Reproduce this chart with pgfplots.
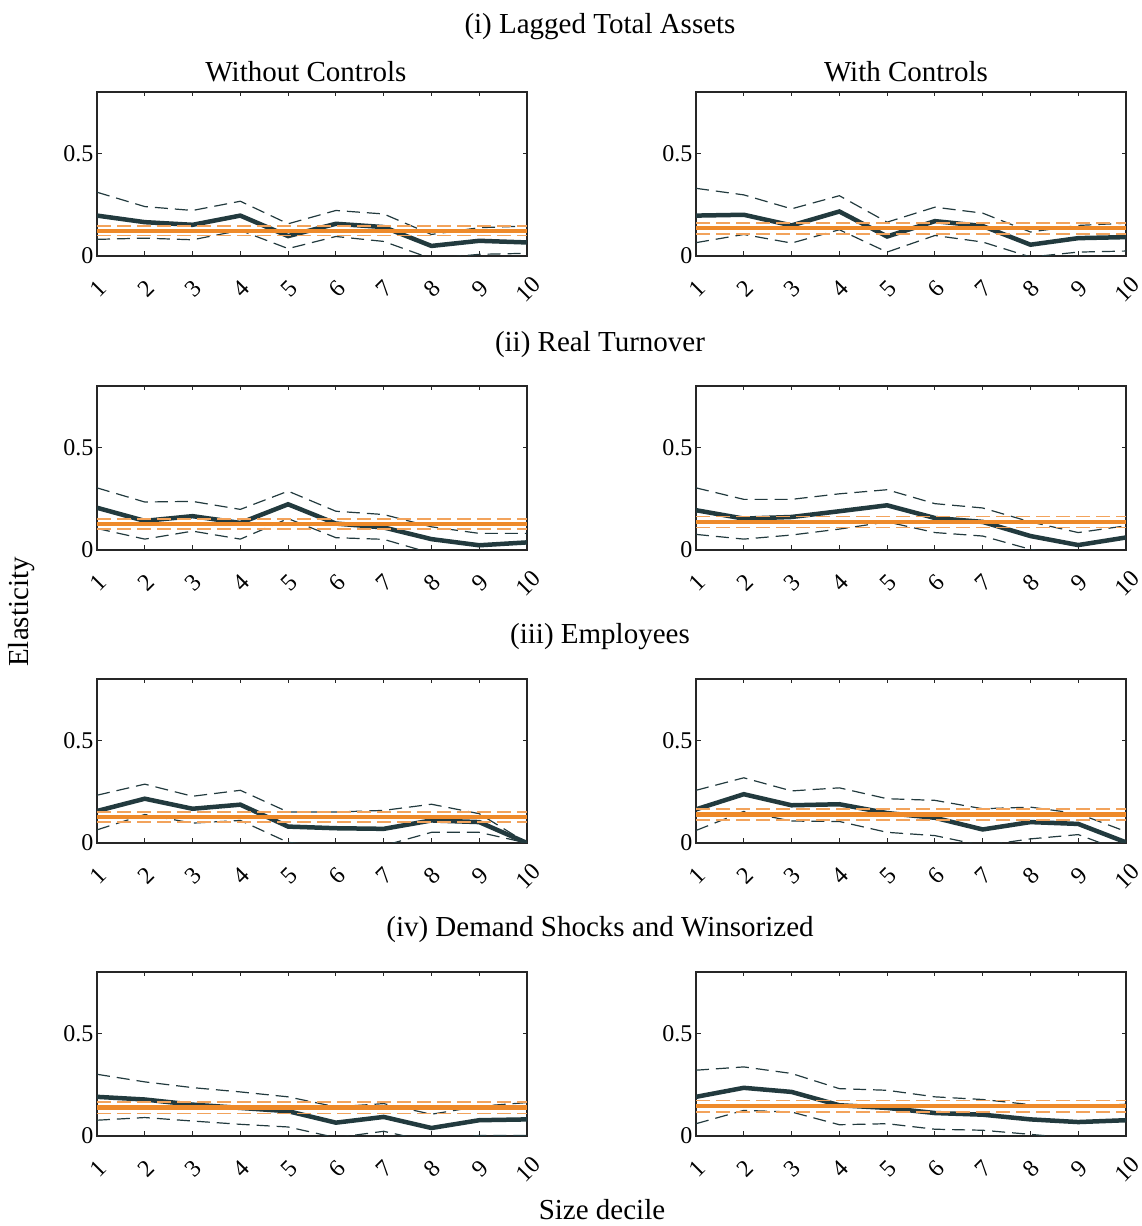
\documentclass[border=0pt]{standalone}
\usepackage{fontspec}
\setmainfont{Liberation Serif}
\usepackage{pgfplots}
\pgfplotsset{compat=1.18}
\usepackage{pgfplotstable}
\definecolor{mainc}{HTML}{223A3E}
\definecolor{orng}{HTML}{EE8A2A}
\definecolor{orngl}{HTML}{F2A35C}
\definecolor{axgray}{HTML}{262626}
\newcommand{\tsz}{\fontsize{24bp}{28bp}\selectfont}
\newcommand{\lsz}{\fontsize{29bp}{34bp}\selectfont}

\pgfplotstableread{
x m u l
1 .197 .311 .081
2 .165 .241 .087
3 .152 .222 .079
4 .197 .267 .125
5 .097 .157 .036
6 .157 .222 .095
7 .141 .205 .071
8 .049 .105 -.013
9 .074 .138 .008
10 .066 .146 .013
}\pA
\pgfplotstableread{
x m u l
1 .197 .330 .065
2 .201 .298 .105
3 .149 .230 .063
4 .217 .294 .128
5 .095 .165 .019
6 .170 .238 .100
7 .146 .209 .068
8 .055 .117 -.005
9 .087 .149 .019
10 .092 .160 .024
}\pB
\pgfplotstableread{
x m u l
1 .206 .303 .105
2 .142 .234 .053
3 .165 .237 .092
4 .132 .198 .053
5 .223 .287 .153
6 .129 .189 .060
7 .110 .173 .052
8 .053 .113 -.016
9 .023 .081 -.040
10 .037 .081 -.024
}\pC
\pgfplotstableread{
x m u l
1 .194 .303 .076
2 .153 .247 .053
3 .161 .247 .073
4 .189 .274 .102
5 .218 .294 .137
6 .156 .226 .085
7 .137 .205 .068
8 .068 .137 .003
9 .024 .085 -.037
10 .061 .118 .000
}\pD
\pgfplotstableread{
x m u l
1 .156 .233 .064
2 .216 .287 .139
3 .167 .228 .097
4 .187 .257 .110
5 .080 .151 .003
6 .072 .151 -.020
7 .069 .159 -.013
8 .110 .189 .052
9 .102 .143 .052
10 .000 .000 .000
}\pE
\pgfplotstableread{
x m u l
1 .164 .257 .061
2 .238 .318 .154
3 .184 .254 .107
4 .189 .269 .105
5 .146 .216 .052
6 .123 .208 .036
7 .066 .167 -.013
8 .102 .175 .020
9 .093 .143 .041
10 .003 .056 -.046
}\pF
\pgfplotstableread{
x m u l
1 .191 .301 .077
2 .178 .264 .090
3 .153 .236 .073
4 .137 .215 .057
5 .121 .191 .044
6 .065 .142 -.008
7 .093 .158 .023
8 .039 .106 -.029
9 .077 .145 .003
10 .081 .163 .003
}\pG
\pgfplotstableread{
x m u l
1 .191 .321 .060
2 .235 .337 .125
3 .215 .305 .117
4 .150 .231 .055
5 .137 .223 .060
6 .112 .191 .033
7 .104 .178 .028
8 .081 .153 .008
9 .068 .142 -.013
10 .077 .155 -.005
}\pH

\pgfplotsset{
  panel/.style={
    scale only axis, width=430bp, height=164bp,
    xmin=1, xmax=10, ymin=0, ymax=0.8,
    xtick={1,...,10}, ytick={0,0.5},
    tick align=inside, major tick length=4.5bp,
    axis line style={draw=axgray, line width=1.1bp},
    every tick/.style={draw=axgray, line width=1.1bp},
    xticklabel style={xshift=1bp, yshift=-33bp, rotate=45, anchor=center, font=\tsz},
    yticklabel style={font=\tsz},
    /pgf/number format/assume math mode=true,
    anchor=south west, clip=true,
  },
  mline/.style={color=mainc, line width=4.5bp, no marks},
  cline/.style={color=mainc, line width=1.2bp, no marks, dash pattern=on 13bp off 7bp},
  oline/.style={color=orng, line width=4.5bp, no marks},
  ocline/.style={color=orngl, line width=1.5bp, no marks, dash pattern=on 14bp off 6bp},
}

\newcommand{\panel}[6]{%
  \begin{axis}[panel, at={(#2bp,#3bp)}]
    \addplot[cline] table[x=x,y=u] {#1};
    \addplot[cline] table[x=x,y=l] {#1};
    \addplot[mline] table[x=x,y=m] {#1};
    \addplot[ocline] coordinates {(1,#5) (10,#5)};
    \addplot[ocline] coordinates {(1,#6) (10,#6)};
    \addplot[oline] coordinates {(1,#4) (10,#4)};
  \end{axis}}

\begin{document}
\begin{tikzpicture}[x=1bp,y=1bp]
\path[use as bounding box] (0,0) rectangle (1142,1226);
\panel{\pA}{97}{970}{.121}{.146}{.099}
\panel{\pB}{696}{970}{.136}{.162}{.107}
\panel{\pC}{97}{676}{.126}{.150}{.102}
\panel{\pD}{696}{676}{.137}{.163}{.110}
\panel{\pE}{97}{383}{.126}{.151}{.102}
\panel{\pF}{696}{383}{.139}{.166}{.113}
\panel{\pG}{97}{90}{.138}{.166}{.109}
\panel{\pH}{696}{90}{.147}{.174}{.117}
\node[font=\lsz] at (600,1199) {(i) Lagged Total Assets};
\node[font=\lsz] at (306,1154) {Without Controls};
\node[font=\lsz] at (906,1154) {With Controls};
\node[font=\lsz] at (600,881) {(ii) Real Turnover};
\node[font=\lsz] at (600,589) {(iii) Employees};
\node[font=\lsz] at (600,296) {(iv) Demand Shocks and Winsorized};
\node[font=\lsz, rotate=90] at (22,614) {Elasticity};
\node[font=\lsz] at (602,16) {Size decile};
\end{tikzpicture}
\end{document}
